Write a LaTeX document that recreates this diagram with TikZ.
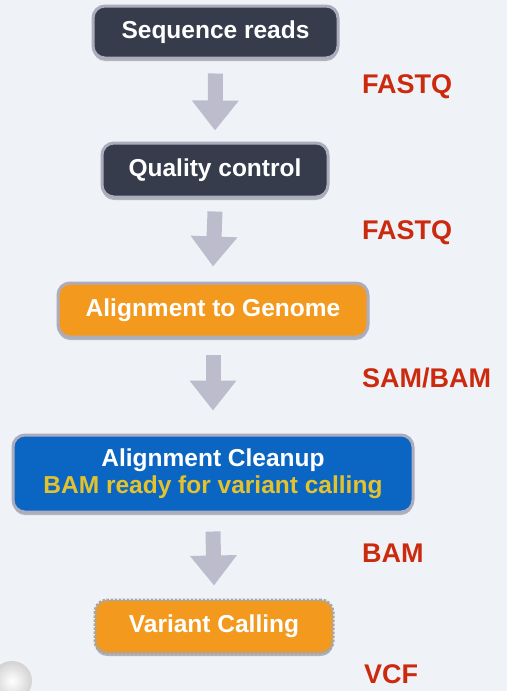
\documentclass[tikz,border=0pt]{standalone}
\usepackage{fontspec}
\setmainfont{Liberation Sans}
\usetikzlibrary{arrows.meta,shadows,calc}
\definecolor{bg}{HTML}{EFF3F7}
\definecolor{darkbox}{HTML}{373C4C}
\definecolor{boxborder}{HTML}{ADACBE}
\definecolor{orangebox}{HTML}{F39A1E}
\definecolor{bluebox}{HTML}{0A66C2}
\definecolor{yellowtxt}{HTML}{E3C22E}
\definecolor{redtxt}{HTML}{CC2A0E}
\definecolor{arrowgray}{HTML}{BDBCCD}
\tikzset{
  stepbox/.style={rounded corners=12pt, draw=boxborder, line width=3pt,
    text=white, font=\bfseries\fontsize{24.5}{28}\selectfont, align=center,
    inner sep=0pt,
    drop shadow={shadow xshift=0pt, shadow yshift=-3pt, opacity=0.25, fill=black}},
  darkstep/.style={stepbox, fill=darkbox},
  orangestep/.style={stepbox, fill=orangebox},
  bluestep/.style={stepbox, fill=bluebox},
  dashstep/.style={stepbox, fill=orangebox, dash pattern=on 2.5pt off 1.5pt, draw=gray!70},
  fmt/.style={text=redtxt, font=\bfseries\fontsize{27}{30}\selectfont, anchor=base west, inner sep=0pt},
  flow/.style={arrowgray, line width=15pt, -{Triangle[length=30pt, width=45pt]}}
}
\begin{document}
\begin{tikzpicture}[x=1pt,y=-1pt]
\fill[bg] (0,0) rectangle (507,691);
\useasboundingbox (0,0) rectangle (507,691);

\node[darkstep, minimum width=245pt, minimum height=52pt] (s1) at (215.5,32) {Sequence reads};
\node[darkstep, minimum width=226pt, minimum height=54pt] (s2) at (215,170) {Quality control};
\node[orangestep, minimum width=310pt, minimum height=54pt] (s3) at (213,310) {Alignment to Genome};
\node[bluestep, minimum width=400pt, minimum height=77pt] (s4) at (213,473.5) {Alignment Cleanup\\[-1pt]{\color{yellowtxt}BAM ready for variant calling}};
\node[dashstep, minimum width=238pt, minimum height=53pt] (s5) at (214,626.5) {Variant Calling};

\draw[flow] ($(s1.south)+(0,14)$) -- ($(s2.north)+(0,-11)$);
\draw[flow] ($(s2.south)+(0,13)$) -- ($(s3.north)+(0,-15)$);
\draw[flow] ($(s3.south)+(0,16)$) -- ($(s4.north)+(0,-23)$);
\draw[flow] ($(s4.south)+(0,18)$) -- ($(s5.north)+(0,-13)$);

\node[fmt] (f1) at (362,93) {FASTQ};
\node[fmt] (f2) at (362,239) {FASTQ};
\node[fmt] (f3) at (362,387) {SAM/BAM};
\node[fmt] (f4) at (362,562) {BAM};
\node[fmt] (f5) at (364,683) {VCF};

\shade[inner color=white, outer color=gray!35] (12,681) circle (20);
\end{tikzpicture}
\end{document}
